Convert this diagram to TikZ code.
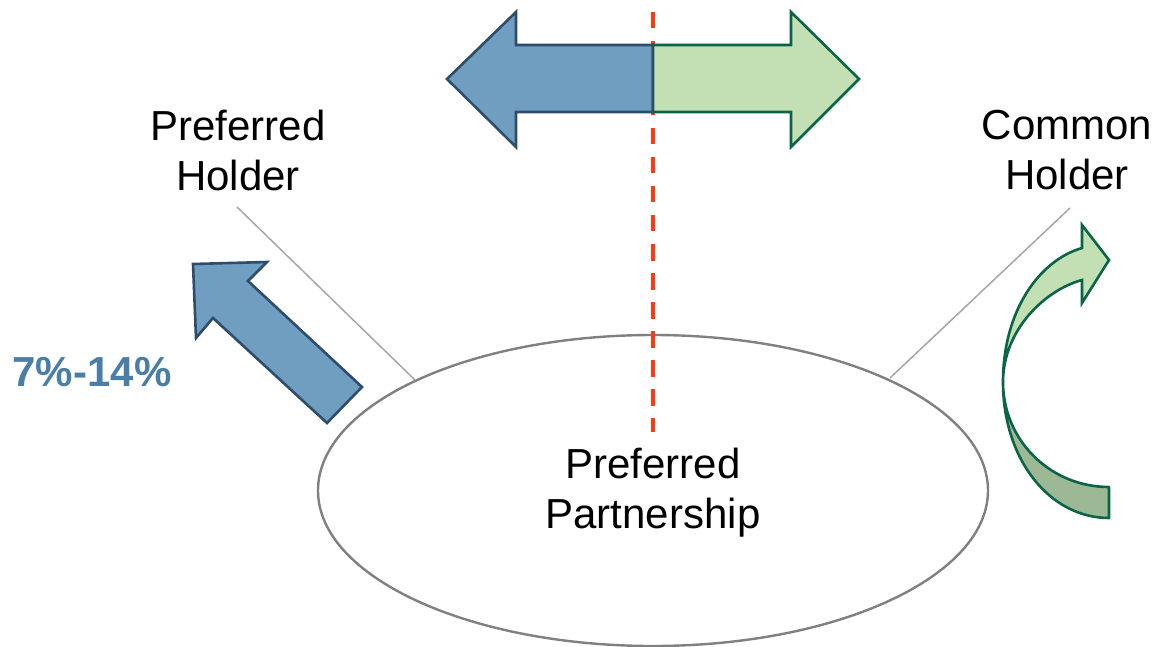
\documentclass[tikz,border=0pt]{standalone}
\usepackage{fontspec}
\setmainfont{Liberation Sans}
\usetikzlibrary{shapes.geometric}
\definecolor{bluefill}{HTML}{6F9EC1}
\definecolor{bluedraw}{HTML}{2E4D6B}
\definecolor{greenfill}{HTML}{C2E0B4}
\definecolor{greendark}{HTML}{9DB894}
\definecolor{greendraw}{HTML}{0B6445}
\definecolor{pcttext}{HTML}{4A7EA8}
\definecolor{reddash}{HTML}{FF3A10}
\definecolor{ellgray}{HTML}{808080}
\definecolor{linegray}{HTML}{A6A6A6}
\begin{document}
\begin{tikzpicture}[x=1pt,y=-1pt,
  lbl/.style={font=\fontsize{42}{50}\selectfont, align=center, inner sep=0pt},
  bluearrow/.style={fill=bluefill, draw=bluedraw, line width=2.6pt, line join=miter},
  greenarrow/.style={fill=greenfill, draw=greendraw, line width=2.6pt, line join=miter},
  leader/.style={draw=linegray, line width=1.5pt}]
\useasboundingbox (0,0) rectangle (1154,647);
% ellipse
\node[draw=ellgray, line width=2.4pt, ellipse, minimum width=670pt, minimum height=311pt, inner sep=0pt] (ell) at (653,490.5) {};
\node[lbl] (pp) at (653,493) {Preferred\\Partnership};
% labels
\node[lbl] (ph) at (238,150) {Preferred\\Holder};
\node[lbl] (ch) at (1067,150) {Common\\Holder};
\node[font=\fontsize{42}{50}\selectfont\bfseries, text=pcttext, inner sep=0pt] (pct) at (92,372) {7\%-14\%};
% leader lines
\coordinate (phl) at (237,207);
\coordinate (phe) at (415,380);
\coordinate (chl) at (1070,208);
\coordinate (che) at (890,378);
\draw[leader] (phl) -- (phe);
\draw[leader] (chl) -- (che);
% red dashed line
\coordinate (dtop) at (653,12);
\coordinate (dbot) at (653,432);
\draw[reddash, line width=4.6pt, dash pattern=on 16.5pt off 12.5pt] (dtop) -- (dbot);
% double arrow
\path[bluearrow] (653,45) -- (516,45) -- (516,12) -- (447,79) -- (516,147) -- (516,112) -- (653,112) -- cycle;
\path[greenarrow] (653,45) -- (791,45) -- (791,12) -- (859,79) -- (791,147) -- (791,112) -- (653,112) -- cycle;
\draw[bluedraw, line width=2.6pt] (653,45) -- (653,112);
% diagonal blue arrow
\path[bluearrow] (193,264) -- (267,262) -- (248,281) -- (362,387) -- (327,423) -- (213,318) -- (196,338) -- cycle;
% curved green arrow
\path[fill=greendark, draw=greendraw, line width=2.6pt, line join=round]
  (1003,382) .. controls (1003,460) and (1050,518) .. (1109,518)
  -- (1109,487) .. controls (1050,487) and (1003,440) .. (1003,382) -- cycle;
\path[fill=greenfill, draw=greendraw, line width=2.6pt, line join=miter]
  (1003,382) .. controls (1003,310) and (1040,260) .. (1082,248)
  -- (1082,225) -- (1109,260) -- (1082,303) -- (1082,280)
  .. controls (1045,290) and (1003,330) .. (1003,382) -- cycle;
\end{tikzpicture}
\end{document}
